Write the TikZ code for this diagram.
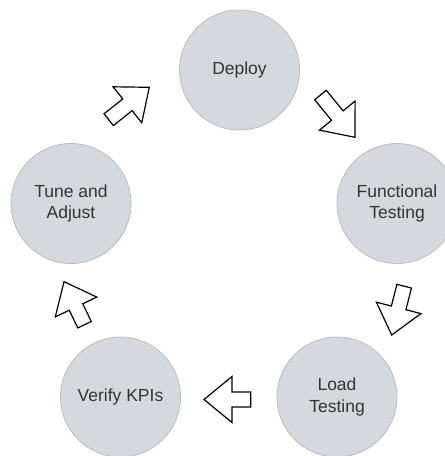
\documentclass[tikz,border=0pt]{standalone}
\usepackage{fontspec}
\setmainfont{Liberation Sans}
\usetikzlibrary{calc}
\definecolor{cfill}{HTML}{D5D9DE}
\definecolor{cline}{HTML}{B8BDC4}
\definecolor{ctext}{HTML}{333333}
\tikzset{
  circ/.style={circle, draw=cline, line width=0.8pt, fill=cfill, minimum size=120pt,
    inner sep=0pt, align=center, text=ctext, font=\fontsize{17.5}{21.5}\selectfont},
  barrow/.style={draw=black, fill=white, line width=1.2pt, line join=miter}
}
\newcommand\blockarr[2]{%
  \coordinate (bb) at ($(#2)!28pt!(#1)$);
  \draw[barrow] ($(#1)!7.5pt!90:(#2)$) -- ($(bb)!7.5pt!90:(#2)$) -- ($(bb)!23pt!90:(#2)$)
    -- (#2) -- ($(bb)!23pt!-90:(#2)$) -- ($(bb)!7.5pt!-90:(#2)$) -- ($(#1)!7.5pt!-90:(#2)$) -- cycle;
}
\begin{document}
\begin{tikzpicture}[x=1pt,y=-1pt]
\useasboundingbox (0,0) rectangle (445,456);
\node[circ] (deploy) at (239.5,70) {Deploy};
\node[circ] (func) at (397,203.5) {Functional\\Testing};
\node[circ] (load) at (337,397) {Load\\Testing};
\node[circ] (verify) at (120.5,397) {Verify KPIs};
\node[circ] (tune) at (71,203.5) {Tune and\\Adjust};
\coordinate (a1t) at (108.7,119.7); \coordinate (a1p) at (149.3,87.3);
\coordinate (a2t) at (320.5,95);    \coordinate (a2p) at (355,137.3);
\coordinate (a3t) at (404.2,286.2); \coordinate (a3p) at (391.7,335);
\coordinate (a4t) at (250.7,399.5); \coordinate (a4p) at (204,399.5);
\coordinate (a5t) at (84.5,324.7);  \coordinate (a5p) at (64,281.7);
\blockarr{a1t}{a1p}
\blockarr{a2t}{a2p}
\blockarr{a3t}{a3p}
\blockarr{a4t}{a4p}
\blockarr{a5t}{a5p}
\end{tikzpicture}
\end{document}
